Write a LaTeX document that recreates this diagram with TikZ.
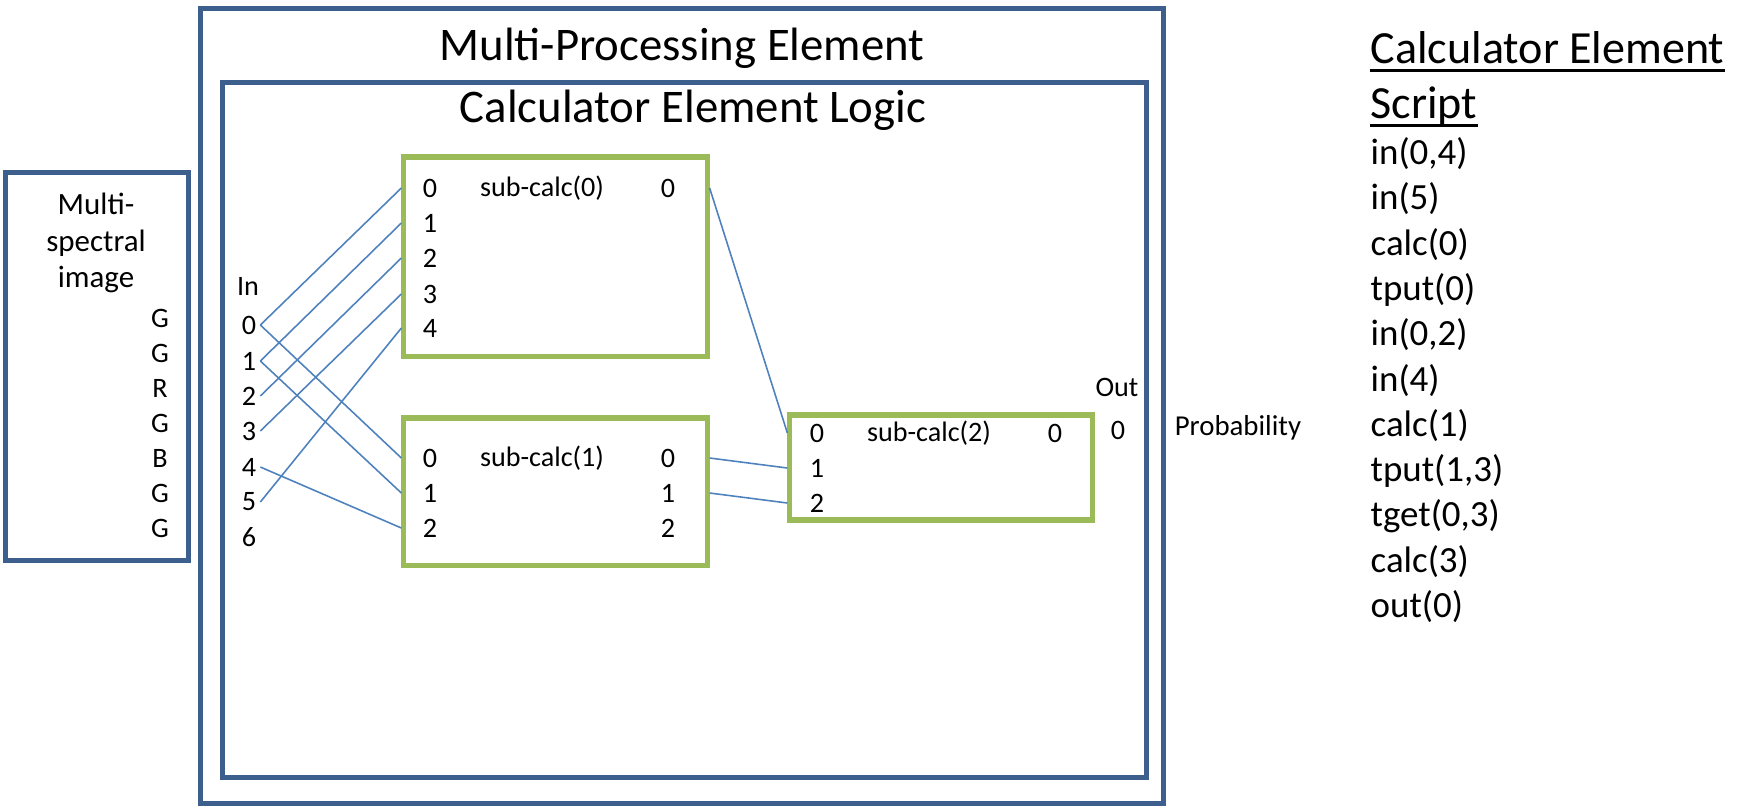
\documentclass[tikz,border=0pt]{standalone}
\usepackage{fontspec}
\setmainfont{Carlito}
\definecolor{frameblue}{HTML}{3C5F8E}
\definecolor{calcgreen}{HTML}{9BBB59}
\definecolor{wireblue}{HTML}{4F81BD}

\begin{document}
\begin{tikzpicture}[x=0.01cm,y=-0.01cm,
  frame/.style={draw=frameblue,line width=1.4pt,inner sep=0pt},
  calcbox/.style={draw=calcgreen,line width=1.45pt,inner sep=0pt},
  wire/.style={draw=wireblue,line width=0.45pt},
  title/.style={font=\fontsize{13.3}{16}\selectfont},
  small/.style={font=\fontsize{8}{9.8}\selectfont,inner sep=1pt},
  script/.style={font=\fontsize{10.5}{12.8}\selectfont,anchor=west,inner sep=0pt}]

\useasboundingbox (0,0) rectangle (1754,808);

% outer frames
\node[frame,minimum width=9.62cm,minimum height=7.95cm] (mpe) at (682,406) {};
\node[frame,minimum width=9.23cm,minimum height=6.95cm] (cel) at (684.5,430) {};
\node[frame,minimum width=1.82cm,minimum height=3.87cm] (img) at (97,366.5) {};

\node[title] (mpetitle) at (682,48) {Multi-Processing Element};
\node[title] (celtitle) at (693,110) {Calculator Element Logic};

% image
\node[font=\fontsize{8.8}{10.3}\selectfont,align=center] (imgtext) at (96,243) {Multi-\\spectral\\image};
\node[small] (g0) at (160,318) {G};
\node[small] (g1) at (160,353) {G};
\node[small] (g2) at (160,388) {R};
\node[small] (g3) at (160,423) {G};
\node[small] (g4) at (160,458) {B};
\node[small] (g5) at (160,493) {G};
\node[small] (g6) at (160,528) {G};

% inputs
\node[small] (inlabel) at (248,286) {In};
\node[small] (in0) at (249,325) {0};
\node[small] (in1) at (249,361) {1};
\node[small] (in2) at (249,396) {2};
\node[small] (in3) at (249,431) {3};
\node[small] (in4) at (249,467) {4};
\node[small] (in5) at (249,502) {5};
\node[small] (in6) at (249,537) {6};

% sub-calc(0)
\node[calcbox,minimum width=3.03cm,minimum height=1.99cm] (sc0) at (555.5,256.5) {};
\node[small] (sc0in0) at (430,188) {0};
\node[small] (sc0in1) at (430,223) {1};
\node[small] (sc0in2) at (430,258) {2};
\node[small] (sc0in3) at (430,294) {3};
\node[small] (sc0in4) at (430,328) {4};
\node[small] (sc0name) at (542,188) {sub-calc(0)};
\node[small] (sc0out0) at (668,188) {0};

% sub-calc(1)
\node[calcbox,minimum width=3.03cm,minimum height=1.47cm] (sc1) at (555.5,491.5) {};
\node[small] (sc1in0) at (430,458) {0};
\node[small] (sc1in1) at (430,493) {1};
\node[small] (sc1in2) at (430,528) {2};
\node[small] (sc1name) at (542,458) {sub-calc(1)};
\node[small] (sc1out0) at (668,458) {0};
\node[small] (sc1out1) at (668,493) {1};
\node[small] (sc1out2) at (668,528) {2};

% sub-calc(2)
\node[calcbox,minimum width=3.02cm,minimum height=1.05cm] (sc2) at (941,467.5) {};
\node[small] (sc2in0) at (817,433) {0};
\node[small] (sc2in1) at (817,468) {1};
\node[small] (sc2in2) at (817,503) {2};
\node[small] (sc2name) at (929,433) {sub-calc(2)};
\node[small] (sc2out0) at (1055,433) {0};

% output
\node[small] (outlabel) at (1117,387) {Out};
\node[small] (out0) at (1118,430) {0};
\node[font=\fontsize{8.2}{9.8}\selectfont] (prob) at (1238,428) {Probability};

% wires
\draw[wire] (in0.east) -- (sc0in0 -| sc0.west);
\draw[wire] (in1.east) -- (sc0in1 -| sc0.west);
\draw[wire] (in2.east) -- (sc0in2 -| sc0.west);
\draw[wire] (in3.east) -- (sc0in3 -| sc0.west);
\draw[wire] (in5.east) -- (sc0in4 -| sc0.west);
\draw[wire] (in0.east) -- (sc1in0 -| sc1.west);
\draw[wire] (in1.east) -- (sc1in1 -| sc1.west);
\draw[wire] (in4.east) -- (sc1in2 -| sc1.west);
\draw[wire] (sc0out0 -| sc0.east) -- (sc2in0 -| sc2.west);
\draw[wire] (sc1out0 -| sc1.east) -- (sc2in1 -| sc2.west);
\draw[wire] (sc1out1 -| sc1.east) -- (sc2in2 -| sc2.west);

% script
\node[font=\fontsize{13.1}{16}\selectfont,anchor=west,inner sep=0pt] (head1) at (1370,48) {Calculator Element};
\node[font=\fontsize{13.1}{16}\selectfont,anchor=west,inner sep=0pt] (head2) at (1370,106) {Script};
\draw[line width=0.85pt] ([yshift=-2pt]head1.base west) -- ([yshift=-2pt]head1.base east);
\draw[line width=0.85pt] ([yshift=-2pt]head2.base west) -- ([yshift=-2pt]head2.base east);
\node[script] (s0) at (1370,154) {in(0,4)};
\node[script] (s1) at (1370,199) {in(5)};
\node[script] (s2) at (1370,245) {calc(0)};
\node[script] (s3) at (1370,290) {tput(0)};
\node[script] (s4) at (1370,335) {in(0,2)};
\node[script] (s5) at (1370,381) {in(4)};
\node[script] (s6) at (1370,426) {calc(1)};
\node[script] (s7) at (1370,471) {tput(1,3)};
\node[script] (s8) at (1370,516) {tget(0,3)};
\node[script] (s9) at (1370,562) {calc(3)};
\node[script] (s10) at (1370,607) {out(0)};

\end{tikzpicture}
\end{document}
